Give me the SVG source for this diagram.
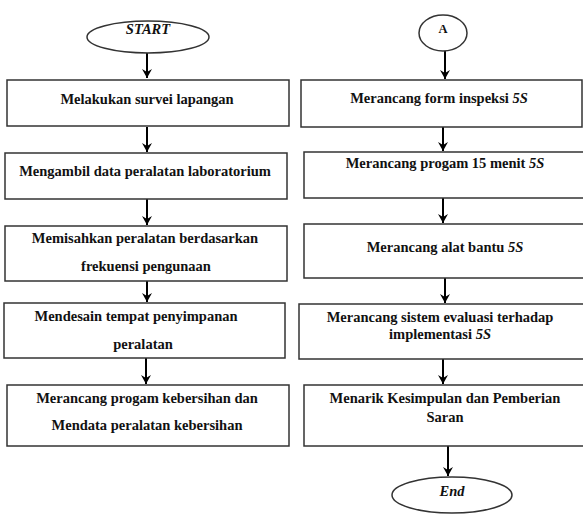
<svg xmlns="http://www.w3.org/2000/svg" width="583" height="515" viewBox="0 0 583 515">
<defs>
<style>
.box{fill:#fff;stroke:#333;stroke-width:1.5}
.t{font-family:"Liberation Serif","Times New Roman",serif;font-weight:bold;font-size:14.5px;fill:#111;text-anchor:middle}
.i{font-style:italic}
.c{stroke:#000;stroke-width:2;fill:none}
</style>
<marker id="ah" markerUnits="userSpaceOnUse" markerWidth="12" markerHeight="12" viewBox="0 0 12 12" refX="6" refY="11" orient="auto-start-reverse">
<path d="M1,3 L6,11 L11,3 L6,6 Z" fill="#000" transform="rotate(-90 6 6)"/>
</marker>
<marker id="arr" markerUnits="userSpaceOnUse" markerWidth="12" markerHeight="12" viewBox="0 0 12 12" refX="11" refY="6" orient="auto">
<path d="M2,1 L11,6 L2,11 L5,6 Z" fill="#000"/>
</marker>
</defs>
<rect width="583" height="515" fill="#fff"/>
<g id="connectors">
<line class="c" x1="147" y1="53" x2="147" y2="78" marker-end="url(#arr)"/>
<line class="c" x1="147" y1="127" x2="147" y2="152" marker-end="url(#arr)"/>
<line class="c" x1="147" y1="199" x2="147" y2="225" marker-end="url(#arr)"/>
<line class="c" x1="147" y1="281" x2="147" y2="302" marker-end="url(#arr)"/>
<line class="c" x1="146" y1="358" x2="146" y2="384" marker-end="url(#arr)"/>
<line class="c" x1="445" y1="51" x2="445" y2="79" marker-end="url(#arr)"/>
<line class="c" x1="443" y1="127" x2="443" y2="151" marker-end="url(#arr)"/>
<line class="c" x1="443" y1="198" x2="443" y2="223" marker-end="url(#arr)"/>
<line class="c" x1="445" y1="278" x2="445" y2="303" marker-end="url(#arr)"/>
<line class="c" x1="443" y1="359" x2="443" y2="384" marker-end="url(#arr)"/>
<line class="c" x1="448" y1="446" x2="448" y2="476" marker-end="url(#arr)"/>
</g>
<g id="start">
<ellipse class="box" cx="148" cy="37" rx="61" ry="16"/>
<text class="t i" x="148" y="34">START</text>
</g>
<g id="n1">
<rect class="box" x="7" y="80" width="282" height="46"/>
<text class="t" x="147" y="104">Melakukan survei lapangan</text>
</g>
<g id="n2">
<rect class="box" x="5" y="153" width="282" height="46"/>
<text class="t" x="145" y="176">Mengambil data peralatan laboratorium</text>
</g>
<g id="n3">
<rect class="box" x="5" y="226" width="282" height="55"/>
<text class="t" x="145" y="243">Memisahkan peralatan berdasarkan</text>
<text class="t" x="146" y="271">frekuensi pengunaan</text>
</g>
<g id="n4">
<rect class="box" x="4" y="303" width="281" height="55"/>
<text class="t" x="136" y="321">Mendesain tempat penyimpanan</text>
<text class="t" x="143" y="349">peralatan</text>
</g>
<g id="n5">
<rect class="box" x="7" y="385" width="282" height="61"/>
<text class="t" x="147" y="403">Merancang progam kebersihan dan</text>
<text class="t" x="147" y="430">Mendata peralatan kebersihan</text>
</g>
<g id="a">
<ellipse class="box" cx="443" cy="33" rx="24" ry="18"/>
<text class="t" x="443" y="33" style="font-size:12.5px">A</text>
</g>
<g id="r1">
<rect class="box" x="301" y="80" width="281" height="47"/>
<text class="t" x="439" y="103">Merancang form inspeksi <tspan class="i">5S</tspan></text>
</g>
<g id="r2">
<rect class="box" x="304" y="152" width="282" height="46"/>
<text class="t" x="445" y="168">Merancang progam 15 menit <tspan class="i">5S</tspan></text>
</g>
<g id="r3">
<rect class="box" x="304" y="224" width="282" height="54"/>
<text class="t" x="445" y="252">Merancang alat bantu <tspan class="i">5S</tspan></text>
</g>
<g id="r4">
<rect class="box" x="299" y="304" width="286" height="55"/>
<text class="t" x="440" y="322">Merancang sistem evaluasi terhadap</text>
<text class="t" x="440" y="339">implementasi <tspan class="i">5S</tspan></text>
</g>
<g id="r5">
<rect class="box" x="304" y="385" width="282" height="61"/>
<text class="t" x="445" y="403">Menarik Kesimpulan dan Pemberian</text>
<text class="t" x="445" y="422">Saran</text>
</g>
<g id="end">
<ellipse class="box" cx="452" cy="495" rx="60" ry="18"/>
<text class="t i" x="452" y="496">End</text>
</g>
</svg>
